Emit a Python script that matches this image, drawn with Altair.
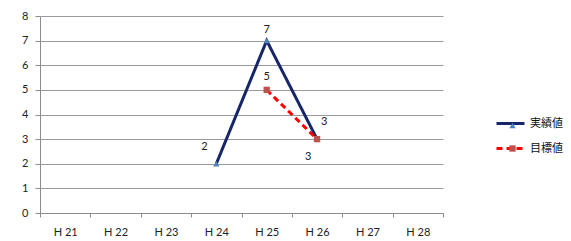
import altair as alt
import pandas as pd

# ---- data ----
years = ["H 21", "H 22", "H 23", "H 24", "H 25", "H 26", "H 27", "H 28"]
series = ["実績値", "目標値"]
actual_years = ["H 24", "H 25", "H 26"]
actual_values = [2, 7, 3]
target_years = ["H 25", "H 26"]
target_values = [5, 3]

df = pd.DataFrame({
    "year": actual_years + target_years,
    "value": actual_values + target_values,
    "series": [series[0]] * len(actual_years) + [series[1]] * len(target_years),
})
df["series2"] = df["series"]

NAVY = "#172668"
RED = "#FF0000"
TRI = "#4F81BD"
SQ = "#C0504D"
FONT = "Lato"
JFONT = "Noto Sans CJK JP"

x_enc = alt.X(
    "year:N",
    sort=years,
    scale=alt.Scale(type="band", domain=years, paddingInner=0, paddingOuter=0),
    axis=alt.Axis(
        title=None, labelAngle=0, tickBand="extent", grid=False,
        domainColor="#8c8c8c", tickColor="#8c8c8c", tickSize=4,
        labelPadding=9, labelFont=FONT, labelFontSize=11, labelColor="#222",
    ),
)
y_enc = alt.Y(
    "value:Q",
    scale=alt.Scale(domain=[0, 8], nice=False),
    axis=alt.Axis(
        title=None, values=list(range(9)), grid=True, gridColor="#9a9a9a",
        domainColor="#8c8c8c", tickColor="#8c8c8c", tickSize=5,
        labelPadding=7, labelFont=FONT, labelFontSize=11, labelColor="#222",
    ),
)

base = alt.Chart(df)

line_legend = alt.Legend(
    title=None, orient="none", legendX=455, legendY=92,
    symbolType="stroke", symbolSize=784, symbolStrokeWidth=3,
    labelFont=JFONT, labelFontSize=11, labelColor="#111", rowPadding=3,
)

lines = base.mark_line(strokeWidth=3).encode(
    x=x_enc,
    y=y_enc,
    color=alt.Color("series:N", scale=alt.Scale(range=[NAVY, RED]), legend=line_legend),
    strokeDash=alt.StrokeDash("series:N", scale=alt.Scale(range=[[1, 0], [6, 4]]), legend=line_legend),
)

marker_legend = alt.Legend(
    title=None, orient="none", legendX=467, legendY=104,
    symbolSize=40, symbolStrokeWidth=0, labelOpacity=0,
    labelFont=JFONT, labelFontSize=11, rowPadding=11,
)

points = base.mark_point(filled=True, size=40, opacity=1).encode(
    x=x_enc,
    y=y_enc,
    fill=alt.Fill("series2:N", scale=alt.Scale(range=[TRI, SQ]), legend=marker_legend),
    shape=alt.Shape("series2:N", scale=alt.Scale(range=["triangle-up", "square"]), legend=marker_legend),
)

label_style = [
    (series[0], "H 24", -12, -17),
    (series[0], "H 25", 0, -11),
    (series[0], "H 26", 7, -17),
    (series[1], "H 25", 0, -13),
    (series[1], "H 26", -9, 18),
]
labels = []
for s, yr, dx, dy in label_style:
    labels.append(
        base.transform_filter(
            (alt.datum.series == s) & (alt.datum.year == yr)
        ).mark_text(font=FONT, fontSize=11, color="#222", dx=dx, dy=dy).encode(
            x=x_enc, y=y_enc, text=alt.Text("value:Q")
        )
    )

chart = alt.layer(lines, points, *labels).properties(
    width=403, height=197,
    autosize=alt.AutoSizeParams(type="none"),
    padding={"left": 32, "top": 8, "right": 120, "bottom": 28},
    background="white",
).configure_view(stroke=None)

chart.save("out.html", embed_options={"renderer": "svg", "actions": False})
